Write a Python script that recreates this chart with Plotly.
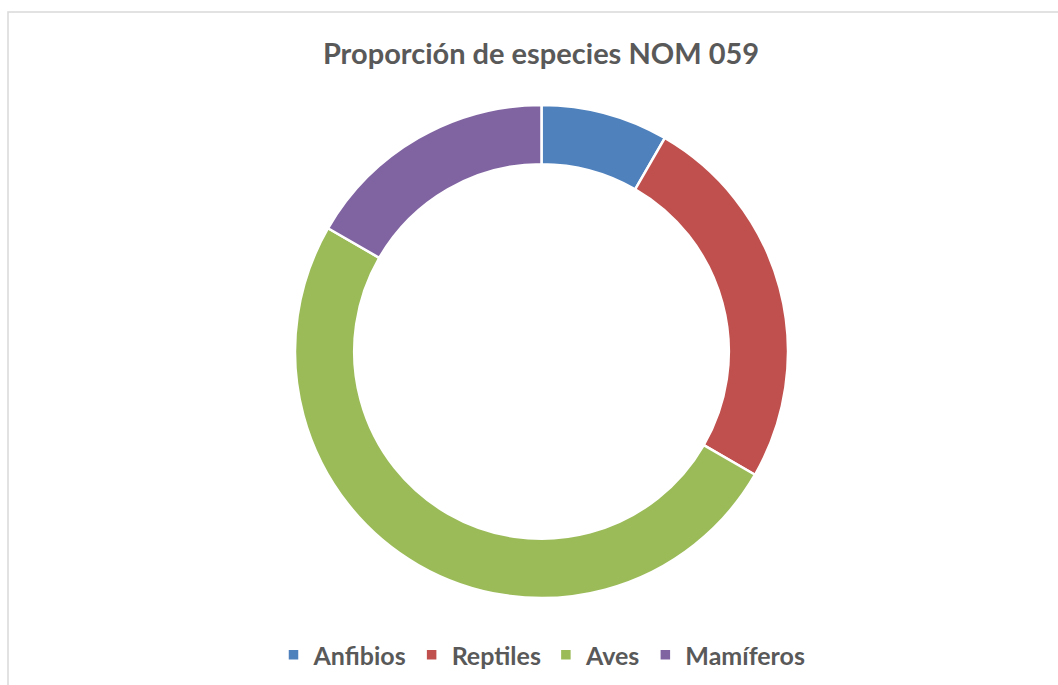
import plotly.graph_objects as go

# Species counts listed in NOM-059, by group
grupos = ["Anfibios", "Reptiles", "Aves", "Mamíferos"]
especies = [1, 3, 6, 2]
colores = ["#4F81BD", "#C0504D", "#9BBB59", "#8064A2"]

W, H = 1058, 685
cx, cy, r = 541.5, 351.5, 246.5

fig = go.Figure(
    go.Pie(
        labels=grupos,
        values=especies,
        hole=0.76,
        sort=False,
        direction="clockwise",
        rotation=0,
        textinfo="none",
        hoverinfo="label+value+percent",
        marker=dict(colors=colores, line=dict(color="white", width=2.5)),
        domain=dict(
            x=[(cx - r) / W, (cx + r) / W],
            y=[1 - (cy + r) / H, 1 - (cy - r) / H],
        ),
    )
)

fig.update_layout(
    width=W,
    height=H,
    margin=dict(l=0, r=0, t=0, b=0),
    paper_bgcolor="white",
    title=dict(
        text="<b>Proporción de especies NOM 059</b>",
        x=541 / W,
        xanchor="center",
        y=1 - 54 / H,
        yanchor="middle",
        font=dict(family="Lato", size=29, color="#595959"),
    ),
    legend=dict(
        orientation="h",
        x=542 / W,
        xanchor="center",
        y=1 - 655 / H,
        yanchor="middle",
        font=dict(family="Lato", size=25, color="#595959", weight="bold"),
        itemwidth=30,
    ),
    shapes=[
        dict(
            type="rect",
            xref="paper",
            yref="paper",
            x0=8 / W,
            x1=1.01,
            y0=-0.01,
            y1=1 - 12 / H,
            line=dict(color="#D9D9D9", width=1.5),
            fillcolor="rgba(0,0,0,0)",
        )
    ],
)

fig.write_html("out.html")
